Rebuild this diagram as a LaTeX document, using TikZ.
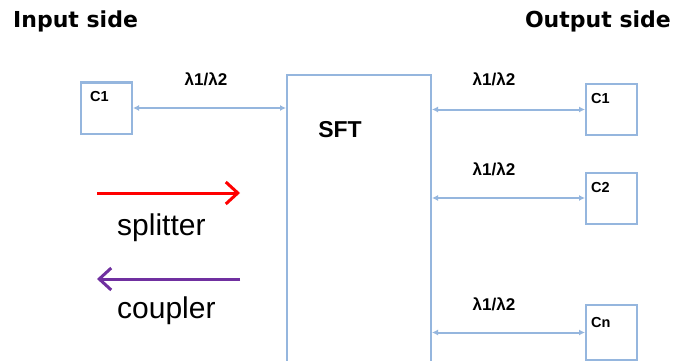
\documentclass[tikz,border=0pt]{standalone}
\usepackage{fontspec}
\setmainfont{Liberation Sans}
\newfontfamily\headfont{DejaVu Sans}
\usetikzlibrary{arrows.meta}
\definecolor{linkblue}{RGB}{149,182,222}
\definecolor{splitred}{RGB}{255,0,0}
\definecolor{couplepurple}{RGB}{112,48,160}
\tikzset{
  chan/.style={draw=linkblue, line width=2pt, minimum width=51pt, minimum height=51pt, inner sep=0pt},
  chanlabel/.style={font=\bfseries\fontsize{14.5}{14.5}\selectfont, anchor=west, inner sep=0pt},
  link/.style={draw=linkblue, line width=2pt, {Latex[length=6pt,width=6pt]}-{Latex[length=6pt,width=6pt]}},
  wave/.style={font=\bfseries\fontsize{17}{17}\selectfont, inner sep=0pt},
  heading/.style={font=\headfont\bfseries\fontsize{22}{22}\selectfont, inner sep=0pt},
  legend/.style={font=\fontsize{30}{30}\selectfont, inner sep=0pt, anchor=base west},
  legendarrow/.style={line width=3pt, -{Straight Barb[length=12pt,width=22pt,line width=3pt]}}
}
\begin{document}
\begin{tikzpicture}[x=1pt,y=-1pt]
  \useasboundingbox (0,0) rectangle (680,361);
  \clip (0,0) rectangle (680,361);
  \fill[white] (0,0) rectangle (680,361);

  % headings
  \node[heading, anchor=west] (inhead) at (13,21) {Input side};
  \node[heading, anchor=east] (outhead) at (671,21) {Output side};

  % central SFT block (runs past the lower edge)
  \node[draw=linkblue, line width=2pt, minimum width=144pt, minimum height=320pt,
        anchor=north west, inner sep=0pt] (sft) at (286,74) {};
  \node[font=\bfseries\fontsize{23}{23}\selectfont, inner sep=0pt] (sftlabel) at (340,130) {SFT};

  % channel boxes
  \node[chan] (inc1) at (106.5,108) {};
  \node[chan] (outc1) at (611.5,109.5) {};
  \node[chan] (outc2) at (611.5,198) {};
  \node[chan, minimum height=55pt] (outcn) at (611.5,332.5) {};

  \node[chanlabel] (inc1t) at (90,97) {C1};
  \node[chanlabel] (outc1t) at (591,99) {C1};
  \node[chanlabel] (outc2t) at (591,188) {C2};
  \node[chanlabel] (outcnt) at (591,323) {Cn};

  % bidirectional links
  \draw[link] (inc1.east) -- (inc1.east -| sft.west);
  \draw[link] (outc1.west -| sft.east) -- (outc1.west);
  \draw[link] (outc2.west -| sft.east) -- (outc2.west);
  \draw[link] (outcn.west -| sft.east) -- (outcn.west);

  % wavelength labels
  \node[wave] (w0) at (206,79) {λ1/λ2};
  \node[wave] (w1) at (494,79) {λ1/λ2};
  \node[wave] (w2) at (494,169) {λ1/λ2};
  \node[wave] (w3) at (494,304) {λ1/λ2};

  % legend
  \coordinate (rs) at (97,193);
  \coordinate (re) at (240,193);
  \coordinate (ps) at (240,279);
  \coordinate (pe) at (97,279);
  \draw[legendarrow, splitred] (rs) -- (re);
  \draw[legendarrow, couplepurple] (ps) -- (pe);
  \node[legend] (split) at (117,235) {splitter};
  \node[legend] (coup) at (117,318) {coupler};
\end{tikzpicture}
\end{document}
